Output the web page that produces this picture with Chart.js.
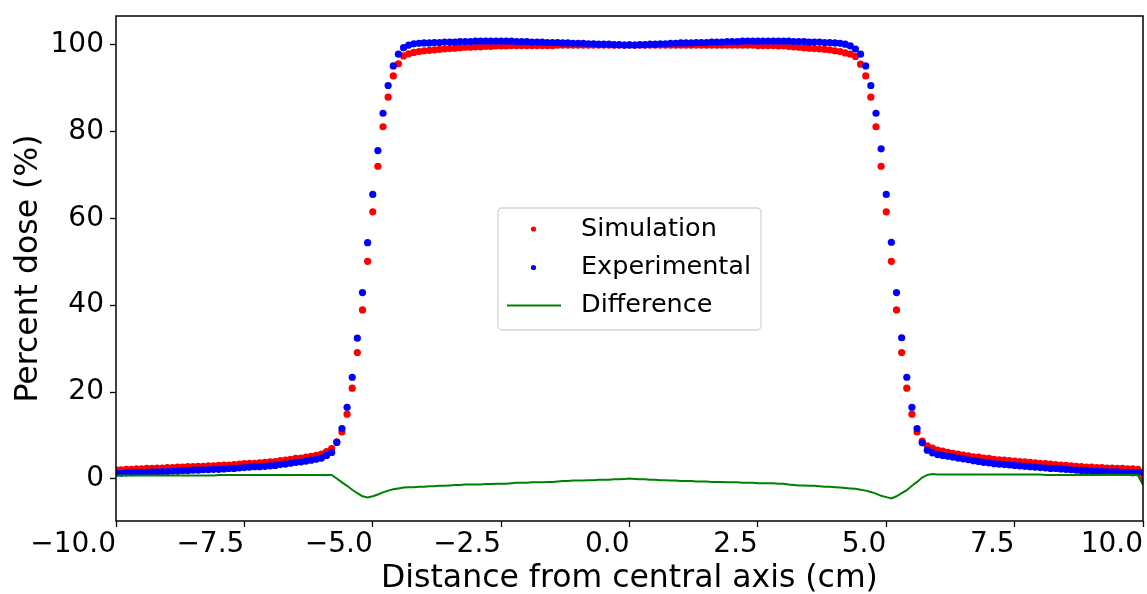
<!DOCTYPE html>
<html lang="en">

<head>
    <meta charset="UTF-8">
    <title>Percent dose</title>
    <script src="https://cdn.jsdelivr.net/npm/chart.js"></script>
    <style>
        body { margin: 0; background: #fff; }
        canvas { display: block; }
    </style>
</head>

<body>
    <canvas id="graficoDose" width="1147" height="594"></canvas>

    <script>
        // Distância do eixo central (cm), passo de 0.1
        const distancia = [
            -10.0, -9.9, -9.8, -9.7, -9.6, -9.5, -9.4, -9.3, -9.2, -9.1,
            -9.0, -8.9, -8.8, -8.7, -8.6, -8.5, -8.4, -8.3, -8.2, -8.1,
            -8.0, -7.9, -7.8, -7.7, -7.6, -7.5, -7.4, -7.3, -7.2, -7.1,
            -7.0, -6.9, -6.8, -6.7, -6.6, -6.5, -6.4, -6.3, -6.2, -6.1,
            -6.0, -5.9, -5.8, -5.7, -5.6, -5.5, -5.4, -5.3, -5.2, -5.1,
            -5.0, -4.9, -4.8, -4.7, -4.6, -4.5, -4.4, -4.3, -4.2, -4.1,
            -4.0, -3.9, -3.8, -3.7, -3.6, -3.5, -3.4, -3.3, -3.2, -3.1,
            -3.0, -2.9, -2.8, -2.7, -2.6, -2.5, -2.4, -2.3, -2.2, -2.1,
            -2.0, -1.9, -1.8, -1.7, -1.6, -1.5, -1.4, -1.3, -1.2, -1.1,
            -1.0, -0.9, -0.8, -0.7, -0.6, -0.5, -0.4, -0.3, -0.2, -0.1,
            0.0,
            0.1, 0.2, 0.3, 0.4, 0.5, 0.6, 0.7, 0.8, 0.9, 1.0,
            1.1, 1.2, 1.3, 1.4, 1.5, 1.6, 1.7, 1.8, 1.9, 2.0,
            2.1, 2.2, 2.3, 2.4, 2.5, 2.6, 2.7, 2.8, 2.9, 3.0,
            3.1, 3.2, 3.3, 3.4, 3.5, 3.6, 3.7, 3.8, 3.9, 4.0,
            4.1, 4.2, 4.3, 4.4, 4.5, 4.6, 4.7, 4.8, 4.9, 5.0,
            5.1, 5.2, 5.3, 5.4, 5.5, 5.6, 5.7, 5.8, 5.9, 6.0,
            6.1, 6.2, 6.3, 6.4, 6.5, 6.6, 6.7, 6.8, 6.9, 7.0,
            7.1, 7.2, 7.3, 7.4, 7.5, 7.6, 7.7, 7.8, 7.9, 8.0,
            8.1, 8.2, 8.3, 8.4, 8.5, 8.6, 8.7, 8.8, 8.9, 9.0,
            9.1, 9.2, 9.3, 9.4, 9.5, 9.6, 9.7, 9.8, 9.9, 10.0
        ];

        // Simulação (%)
        const simulacao = [
            2.1, 2.1, 2.2, 2.2, 2.3, 2.3, 2.4, 2.4, 2.5, 2.5,
            2.6, 2.6, 2.7, 2.7, 2.8, 2.8, 2.9, 2.9, 3.0, 3.0,
            3.1, 3.2, 3.2, 3.3, 3.4, 3.5, 3.6, 3.6, 3.7, 3.8,
            3.9, 4.0, 4.2, 4.3, 4.5, 4.7, 4.8, 5.0, 5.2, 5.4,
            5.7, 6.3, 7.0, 8.5, 10.8, 14.9, 20.9, 29.1, 38.9, 50.1,
            61.5, 72.0, 81.1, 87.9, 92.8, 95.6, 97.4, 97.9, 98.2, 98.4,
            98.6, 98.7, 98.8, 98.9, 99.0, 99.1, 99.2, 99.3, 99.4, 99.4,
            99.5, 99.5, 99.6, 99.6, 99.7, 99.7, 99.7, 99.8, 99.8, 99.8,
            99.8, 99.8, 99.8, 99.8, 99.8, 99.8, 99.9, 99.9, 99.9, 99.9,
            99.9, 99.9, 99.9, 99.9, 99.9, 99.9, 99.9, 99.9, 99.9, 99.9,
            100.0,
            99.9, 99.9, 99.9, 99.9, 99.9, 99.9, 99.9, 99.9, 99.9, 99.9,
            99.9, 99.9, 99.9, 99.9, 99.9, 99.9, 99.9, 99.9, 99.9, 99.9,
            99.9, 99.9, 99.9, 99.9, 99.8, 99.8, 99.8, 99.8, 99.7, 99.7,
            99.6, 99.5, 99.4, 99.3, 99.2, 99.1, 99.0, 98.9, 98.8, 98.6,
            98.4, 98.1, 97.8, 97.3, 95.5, 92.8, 87.9, 81.1, 72.0, 61.5,
            50.1, 38.9, 29.1, 20.9, 14.9, 10.8, 8.7, 7.6, 7.1, 6.6,
            6.4, 6.1, 5.9, 5.7, 5.5, 5.3, 5.1, 5.0, 4.8, 4.7,
            4.5, 4.4, 4.3, 4.2, 4.1, 4.0, 3.9, 3.8, 3.7, 3.6,
            3.5, 3.4, 3.3, 3.2, 3.1, 3.0, 2.9, 2.8, 2.7, 2.7,
            2.6, 2.6, 2.5, 2.5, 2.4, 2.4, 2.3, 2.3, 2.2, 0.1
        ];

        // Experimental (%)
        const experimental = [
            1.3, 1.3, 1.4, 1.4, 1.5, 1.5, 1.5, 1.6, 1.6, 1.7,
            1.7, 1.8, 1.8, 1.9, 1.9, 2.0, 2.0, 2.1, 2.1, 2.2,
            2.2, 2.3, 2.4, 2.4, 2.5, 2.6, 2.7, 2.8, 2.8, 2.9,
            3.0, 3.1, 3.3, 3.4, 3.6, 3.8, 3.9, 4.1, 4.3, 4.5,
            4.8, 5.4, 6.1, 8.4, 11.6, 16.5, 23.4, 32.4, 42.9, 54.4,
            65.5, 75.6, 84.2, 90.6, 95.1, 97.8, 99.3, 99.9, 100.2, 100.3,
            100.4, 100.4, 100.5, 100.5, 100.6, 100.6, 100.6, 100.7, 100.7, 100.7,
            100.8, 100.8, 100.8, 100.8, 100.8, 100.8, 100.8, 100.8, 100.7, 100.7,
            100.7, 100.6, 100.6, 100.6, 100.5, 100.5, 100.5, 100.4, 100.4, 100.3,
            100.3, 100.3, 100.2, 100.2, 100.1, 100.1, 100.1, 100.0, 100.0, 99.9,
            99.9,
            99.9, 100.0, 100.0, 100.1, 100.1, 100.2, 100.2, 100.3, 100.3, 100.4,
            100.4, 100.4, 100.5, 100.5, 100.5, 100.6, 100.6, 100.6, 100.7, 100.7,
            100.7, 100.8, 100.8, 100.8, 100.8, 100.8, 100.8, 100.8, 100.8, 100.8,
            100.8, 100.7, 100.7, 100.7, 100.6, 100.6, 100.6, 100.5, 100.5, 100.4,
            100.3, 100.1, 99.7, 99.0, 97.8, 95.1, 90.6, 84.2, 76.0, 65.5,
            54.5, 42.9, 32.5, 23.4, 16.5, 11.6, 8.3, 6.6, 6.0, 5.6,
            5.4, 5.2, 5.0, 4.8, 4.6, 4.4, 4.2, 4.0, 3.8, 3.7,
            3.5, 3.4, 3.3, 3.2, 3.1, 3.0, 2.9, 2.8, 2.7, 2.6,
            2.5, 2.4, 2.4, 2.3, 2.2, 2.1, 2.0, 1.9, 1.9, 1.8,
            1.8, 1.7, 1.7, 1.6, 1.6, 1.5, 1.5, 1.4, 1.4, 1.5
        ];

        // Diferença (%)
        const diferenca = [
            0.8, 0.8, 0.8, 0.8, 0.8, 0.8, 0.8, 0.8, 0.8, 0.8,
            0.8, 0.8, 0.8, 0.8, 0.8, 0.8, 0.8, 0.8, 0.8, 0.8,
            0.9, 0.9, 0.9, 0.9, 0.9, 0.9, 0.9, 0.9, 0.9, 0.9,
            0.9, 0.9, 0.9, 0.9, 0.9, 0.9, 0.9, 0.9, 0.9, 0.9,
            0.9, 0.9, 0.9, 0.1, -0.8, -1.6, -2.5, -3.3, -4.0, -4.3,
            -4.0, -3.6, -3.1, -2.7, -2.4, -2.2, -2.0, -1.9, -1.9, -1.8,
            -1.8, -1.7, -1.7, -1.6, -1.6, -1.5, -1.4, -1.4, -1.3, -1.3,
            -1.3, -1.3, -1.2, -1.2, -1.1, -1.1, -1.1, -1.0, -0.9, -0.9,
            -0.9, -0.8, -0.8, -0.8, -0.7, -0.7, -0.6, -0.5, -0.5, -0.4,
            -0.4, -0.4, -0.3, -0.3, -0.2, -0.2, -0.2, -0.1, -0.1, 0.0,
            0.1,
            0.0, -0.1, -0.1, -0.2, -0.2, -0.3, -0.3, -0.4, -0.4, -0.5,
            -0.5, -0.5, -0.6, -0.6, -0.6, -0.7, -0.7, -0.7, -0.8, -0.8,
            -0.8, -0.9, -0.9, -0.9, -1.0, -1.0, -1.0, -1.0, -1.1, -1.1,
            -1.3, -1.4, -1.5, -1.5, -1.6, -1.6, -1.7, -1.8, -1.8, -1.9,
            -2.0, -2.1, -2.2, -2.3, -2.5, -2.7, -3.0, -3.4, -3.9, -4.2,
            -4.5, -4.0, -3.3, -2.6, -1.6, -0.7, 0.3, 0.9, 1.1, 1.0,
            1.0, 1.0, 1.0, 1.0, 1.0, 1.0, 1.0, 1.0, 1.0, 1.0,
            1.0, 1.0, 1.0, 1.0, 1.0, 1.0, 1.0, 1.0, 1.0, 1.0,
            0.9, 0.9, 0.9, 0.9, 0.9, 0.9, 0.9, 0.9, 0.9, 0.9,
            0.9, 0.9, 0.9, 0.9, 0.9, 0.9, 0.9, 0.9, 0.9, -1.4
        ];

        const ticksX = [-10, -7.5, -5, -2.5, 0, 2.5, 5, 7.5, 10];
        const ticksY = [0, 20, 40, 60, 80, 100];

        const fonteTicks = { family: 'DejaVu Sans', size: 28 };
        const fonteTitulo = { family: 'DejaVu Sans', size: 31.5, lineHeight: 1 };

        function pontos(valores) {
            return distancia.map((x, i) => ({ x: x, y: valores[i] }));
        }

        // moldura completa (matplotlib desenha os 4 lados)
        const moldura = {
            id: 'moldura',
            afterDraw(chart) {
                const { ctx, chartArea: a } = chart;
                ctx.save();
                ctx.strokeStyle = '#000';
                ctx.lineWidth = 1.5;
                ctx.strokeRect(a.left, a.top, a.right - a.left, a.bottom - a.top);
                ctx.restore();
            }
        };

        // legenda no meio do gráfico
        const legendaCentro = {
            id: 'legendaCentro',
            afterDraw(chart) {
                const ctx = chart.ctx;
                const box = { x: 498, y: 208, w: 263, h: 122 };
                ctx.save();
                ctx.beginPath();
                ctx.roundRect(box.x, box.y, box.w, box.h, 4);
                ctx.fillStyle = 'rgba(255,255,255,0.8)';
                ctx.fill();
                ctx.strokeStyle = '#d4d4d4';
                ctx.lineWidth = 1.3;
                ctx.stroke();

                ctx.font = '25.5px "DejaVu Sans"';
                ctx.textBaseline = 'middle';
                ctx.textAlign = 'left';
                const linhas = [229, 267.5, 305.5];
                chart.data.datasets.forEach((ds, i) => {
                    const y = linhas[i];
                    if (ds.showLine) {
                        ctx.strokeStyle = ds.borderColor;
                        ctx.lineWidth = 2;
                        ctx.beginPath();
                        ctx.moveTo(507, y);
                        ctx.lineTo(561, y);
                        ctx.stroke();
                    } else {
                        ctx.fillStyle = ds.backgroundColor;
                        ctx.beginPath();
                        ctx.arc(533.5, y, 2.6, 0, Math.PI * 2);
                        ctx.fill();
                    }
                    ctx.fillStyle = '#000';
                    ctx.fillText(ds.label, 581, y);
                });
                ctx.restore();
            }
        };

        const grafico = new Chart(document.getElementById('graficoDose'), {
            type: 'scatter',
            data: {
                datasets: [
                    {
                        label: 'Simulation',
                        data: pontos(simulacao),
                        backgroundColor: '#ff0000',
                        borderColor: '#ff0000',
                        pointRadius: 3.6,
                        pointBorderWidth: 0,
                        order: 3
                    },
                    {
                        label: 'Experimental',
                        data: pontos(experimental),
                        backgroundColor: '#0000ff',
                        borderColor: '#0000ff',
                        pointRadius: 3.6,
                        pointBorderWidth: 0,
                        order: 2
                    },
                    {
                        label: 'Difference',
                        data: pontos(diferenca),
                        showLine: true,
                        borderColor: '#008000',
                        backgroundColor: '#008000',
                        borderWidth: 2,
                        pointRadius: 0,
                        tension: 0,
                        order: 1
                    }
                ]
            },
            plugins: [moldura, legendaCentro],
            options: {
                responsive: false,
                animation: false,
                devicePixelRatio: 1,
                layout: { padding: { left: 0, right: 4, top: 16, bottom: 0 } },
                plugins: {
                    legend: { display: false },
                    tooltip: { enabled: false }
                },
                scales: {
                    x: {
                        type: 'linear',
                        min: -10,
                        max: 10,
                        afterBuildTicks: (s) => { s.ticks = ticksX.map(v => ({ value: v })); },
                        afterFit: (s) => {
                            s.height = 73;
                            s.paddingLeft = 0;
                            s.paddingRight = 0;
                        },
                        ticks: {
                            autoSkip: false,
                            maxRotation: 0,
                            align: 'end',
                            color: '#000',
                            font: fonteTicks,
                            padding: 1,
                            callback: (v) => (v < 0 ? '\u2212' : '') + Math.abs(v).toFixed(1)
                        },
                        grid: {
                            drawOnChartArea: false,
                            tickLength: 6,
                            tickColor: '#000',
                            tickWidth: 1.3
                        },
                        border: { display: false },
                        title: {
                            display: true,
                            text: 'Distance from central axis (cm)',
                            color: '#000',
                            font: fonteTitulo,
                            padding: { top: 0, bottom: -1 }
                        }
                    },
                    y: {
                        type: 'linear',
                        min: -9.7,
                        max: 106.6,
                        afterBuildTicks: (s) => { s.ticks = ticksY.map(v => ({ value: v })); },
                        afterFit: (s) => {
                            s.width = 116;
                            s.paddingTop = 0;
                            s.paddingBottom = 0;
                        },
                        ticks: {
                            color: '#000',
                            font: fonteTicks,
                            padding: 6
                        },
                        grid: {
                            drawOnChartArea: false,
                            tickLength: 6,
                            tickColor: '#000',
                            tickWidth: 1.3
                        },
                        border: { display: false },
                        title: {
                            display: true,
                            text: 'Percent dose (%)',
                            color: '#000',
                            font: fonteTitulo,
                            padding: { top: 13, bottom: 0 }
                        }
                    }
                }
            }
        });
    </script>
</body>

</html>
